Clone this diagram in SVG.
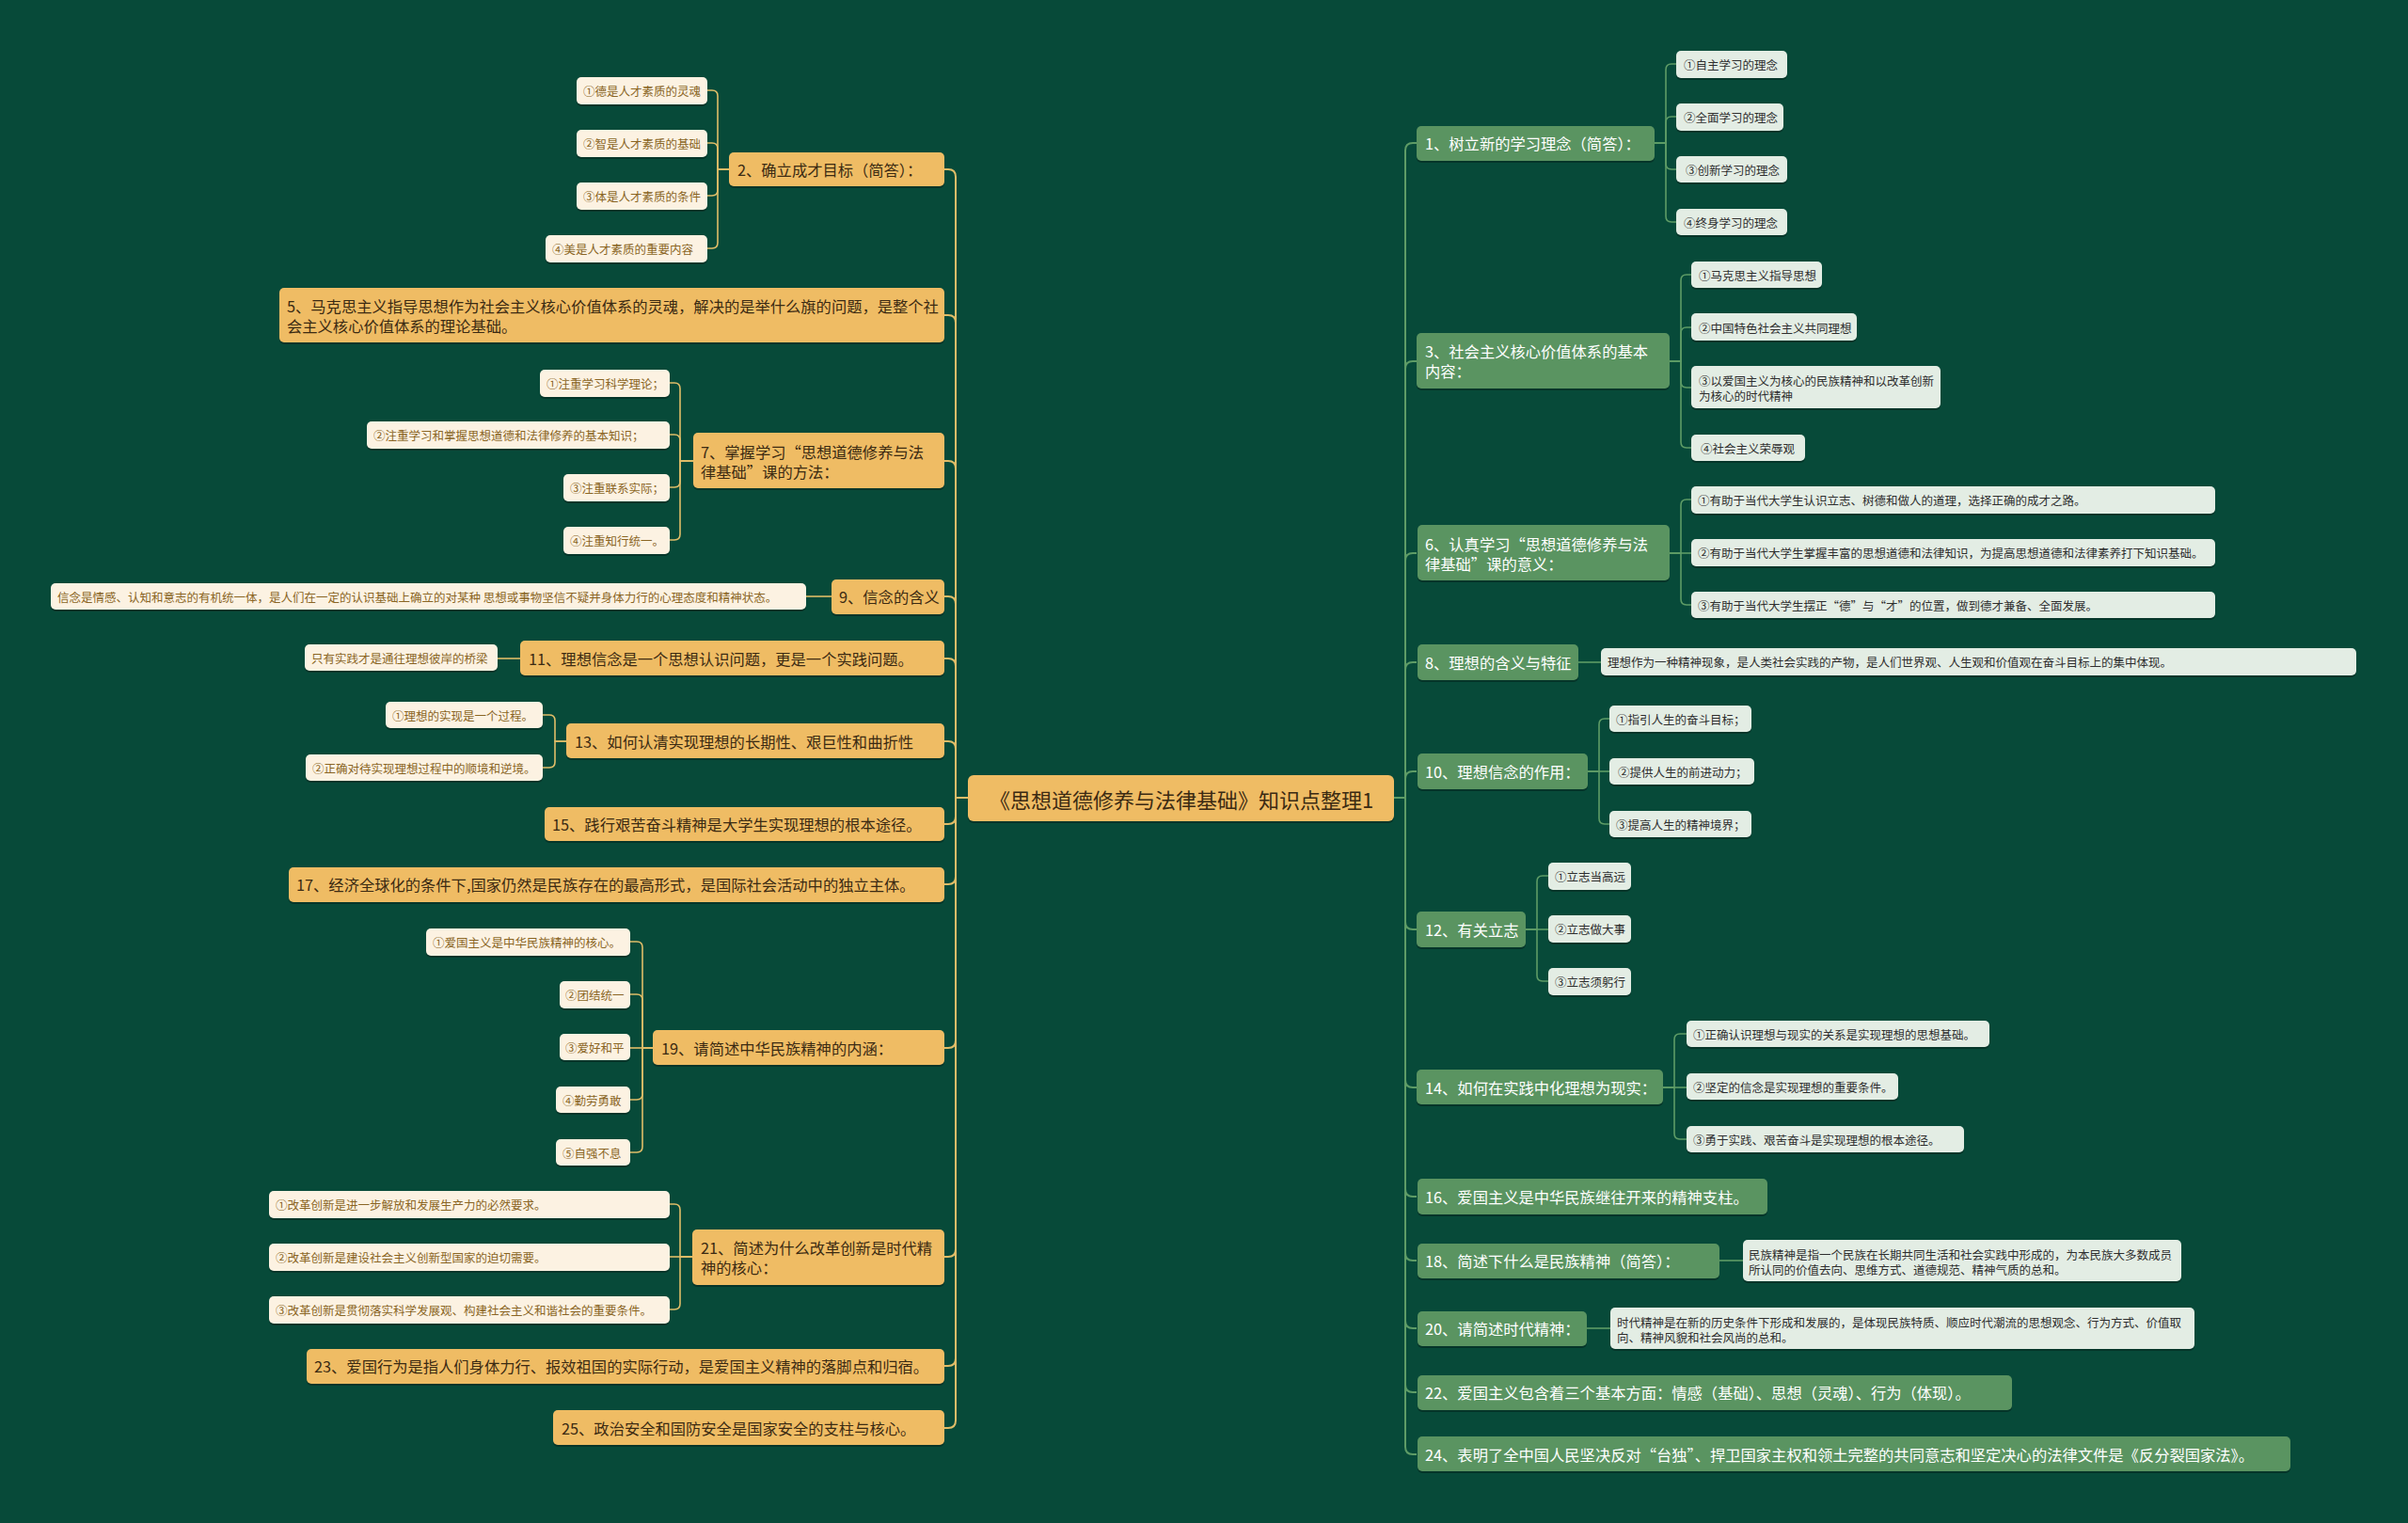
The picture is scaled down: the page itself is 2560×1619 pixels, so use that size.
<svg xmlns="http://www.w3.org/2000/svg" width="2560" height="1619" viewBox="0 0 2560 1619">
<style>
text{font-family:"Noto Sans CJK SC","Liberation Sans",sans-serif;dominant-baseline:central}
.sh{fill:#000;opacity:.28}
.go{fill:#EFBC64}
.gt{fill:#3b2a12;font-size:16.3px}
.co{fill:#FCF2E2}
.ct{fill:#8a6524;font-size:12.5px}
.gr{fill:#5A9461}
.grt{fill:#fff;font-size:16.3px}
.lg{fill:#E3EDE4}
.lgt{fill:#2e2e2e;font-size:12.5px}
.lc{fill:none;stroke:#E0BD68;stroke-width:2}
.lc2{fill:none;stroke:#E0BD68;stroke-width:1.6}
.rc{fill:none;stroke:#5E9C66;stroke-width:2}
.rc2{fill:none;stroke:#5E9C66;stroke-width:1.6}
</style>
<rect x="0" y="0" width="2560" height="1619" fill="#074a39"/>
<g id="connectors">
<path class="lc" d="M1029 848H1016V188Q1016 180 1008 180H1004"/>
<path class="lc" d="M1029 848H1016V343Q1016 335 1008 335H1004"/>
<path class="lc" d="M1029 848H1016V498Q1016 490 1008 490H1004"/>
<path class="lc" d="M1029 848H1016V642Q1016 634 1008 634H1004"/>
<path class="lc" d="M1029 848H1016V708Q1016 700 1008 700H1004"/>
<path class="lc" d="M1029 848H1016V796Q1016 788 1008 788H1004"/>
<path class="lc" d="M1029 848H1016V868Q1016 876 1008 876H1004"/>
<path class="lc" d="M1029 848H1016V932Q1016 940 1008 940H1004"/>
<path class="lc" d="M1029 848H1016V1106Q1016 1114 1008 1114H1004"/>
<path class="lc" d="M1029 848H1016V1328Q1016 1336 1008 1336H1004"/>
<path class="lc" d="M1029 848H1016V1444Q1016 1452 1008 1452H1004"/>
<path class="lc" d="M1029 848H1016V1510Q1016 1518 1008 1518H1004"/>
<path class="rc" d="M1482 848H1494V160Q1494 152 1502 152H1506"/>
<path class="rc" d="M1482 848H1494V392Q1494 384 1502 384H1506"/>
<path class="rc" d="M1482 848H1494V596Q1494 588 1502 588H1506"/>
<path class="rc" d="M1482 848H1494V712Q1494 704 1502 704H1506"/>
<path class="rc" d="M1482 848H1494V828Q1494 820 1502 820H1506"/>
<path class="rc" d="M1482 848H1494V980Q1494 988 1502 988H1506"/>
<path class="rc" d="M1482 848H1494V1148Q1494 1156 1502 1156H1506"/>
<path class="rc" d="M1482 848H1494V1264Q1494 1272 1502 1272H1506"/>
<path class="rc" d="M1482 848H1494V1332Q1494 1340 1502 1340H1506"/>
<path class="rc" d="M1482 848H1494V1404Q1494 1412 1502 1412H1506"/>
<path class="rc" d="M1482 848H1494V1472Q1494 1480 1502 1480H1506"/>
<path class="rc" d="M1482 848H1494V1538Q1494 1546 1502 1546H1506"/>
<path class="lc2" d="M775 180H763V102Q763 96 757 96H752"/>
<path class="lc2" d="M775 180H763V158Q763 152 757 152H752"/>
<path class="lc2" d="M775 180H763V202Q763 208 757 208H752"/>
<path class="lc2" d="M775 180H763V258Q763 264 757 264H752"/>
<path class="lc2" d="M737 490H723V413Q723 407 717 407H712"/>
<path class="lc2" d="M737 490H723V468Q723 462 717 462H712"/>
<path class="lc2" d="M737 490H723V512Q723 518 717 518H712"/>
<path class="lc2" d="M737 490H723V568Q723 574 717 574H712"/>
<path class="lc2" d="M884 634H857"/>
<path class="lc2" d="M553 700H529"/>
<path class="lc2" d="M602 788H590V766Q590 760 584 760H577"/>
<path class="lc2" d="M602 788H590V810Q590 816 584 816H577"/>
<path class="lc2" d="M694 1114H683V1007Q683 1001 677 1001H670"/>
<path class="lc2" d="M694 1114H683V1063Q683 1057 677 1057H670"/>
<path class="lc2" d="M694 1114H670"/>
<path class="lc2" d="M694 1114H683V1163Q683 1169 677 1169H670"/>
<path class="lc2" d="M694 1114H683V1219Q683 1225 677 1225H670"/>
<path class="lc2" d="M736 1336H723V1286Q723 1280 717 1280H712"/>
<path class="lc2" d="M736 1336H712"/>
<path class="lc2" d="M736 1336H723V1386Q723 1392 717 1392H712"/>
<path class="rc2" d="M1759 152H1771V74Q1771 68 1777 68H1782"/>
<path class="rc2" d="M1759 152H1771V130Q1771 124 1777 124H1782"/>
<path class="rc2" d="M1759 152H1771V174Q1771 180 1777 180H1782"/>
<path class="rc2" d="M1759 152H1771V230Q1771 236 1777 236H1782"/>
<path class="rc2" d="M1775 384H1787V298Q1787 292 1793 292H1798"/>
<path class="rc2" d="M1775 384H1787V354Q1787 348 1793 348H1798"/>
<path class="rc2" d="M1775 384H1787V406Q1787 412 1793 412H1798"/>
<path class="rc2" d="M1775 384H1787V470Q1787 476 1793 476H1798"/>
<path class="rc2" d="M1775 588H1787V537Q1787 531 1793 531H1798"/>
<path class="rc2" d="M1775 588H1798"/>
<path class="rc2" d="M1775 588H1787V637Q1787 643 1793 643H1798"/>
<path class="rc2" d="M1678 704H1702"/>
<path class="rc2" d="M1688 820H1700V770Q1700 764 1706 764H1711"/>
<path class="rc2" d="M1688 820H1711"/>
<path class="rc2" d="M1688 820H1700V870Q1700 876 1706 876H1711"/>
<path class="rc2" d="M1622 988H1634V937Q1634 931 1640 931H1646"/>
<path class="rc2" d="M1622 988H1646"/>
<path class="rc2" d="M1622 988H1634V1037Q1634 1043 1640 1043H1646"/>
<path class="rc2" d="M1768 1156H1780V1105Q1780 1099 1786 1099H1793"/>
<path class="rc2" d="M1768 1156H1793"/>
<path class="rc2" d="M1768 1156H1780V1205Q1780 1211 1786 1211H1793"/>
<path class="rc2" d="M1828 1340H1853"/>
<path class="rc2" d="M1687 1412H1712"/>
</g>
<g id="root"><rect class="sh" x="1029" y="826" width="453" height="49" rx="6"/><rect class="go" x="1029" y="824" width="453" height="49" rx="6"/><text x="1256" y="849" text-anchor="middle" style="fill:#3b2a12;font-size:22px">《思想道德修养与法律基础》知识点整理1</text></g>
<g id="n2"><rect class="sh" x="775" y="164" width="229" height="36" rx="5"/><rect class="go" x="775" y="162" width="229" height="36" rx="5"/><text class="gt" x="784" y="180">2、确立成才目标（简答）：</text></g>
<g id="n2c1"><rect class="sh" x="613" y="84" width="139" height="29" rx="5"/><rect class="co" x="613" y="82" width="139" height="29" rx="5"/><text class="ct" x="620" y="96">①德是人才素质的灵魂</text></g>
<g id="n2c2"><rect class="sh" x="613" y="140" width="139" height="29" rx="5"/><rect class="co" x="613" y="138" width="139" height="29" rx="5"/><text class="ct" x="620" y="152">②智是人才素质的基础</text></g>
<g id="n2c3"><rect class="sh" x="613" y="196" width="139" height="29" rx="5"/><rect class="co" x="613" y="194" width="139" height="29" rx="5"/><text class="ct" x="620" y="208">③体是人才素质的条件</text></g>
<g id="n2c4"><rect class="sh" x="580" y="252" width="172" height="29" rx="5"/><rect class="co" x="580" y="250" width="172" height="29" rx="5"/><text class="ct" x="587" y="264">④美是人才素质的重要内容</text></g>
<g id="n5"><rect class="sh" x="297" y="308" width="707" height="58" rx="5"/><rect class="go" x="297" y="306" width="707" height="58" rx="5"/><text class="gt" x="305" y="325">5、马克思主义指导思想作为社会主义核心价值体系的灵魂，解决的是举什么旗的问题，是整个社</text><text class="gt" x="305" y="346">会主义核心价值体系的理论基础。</text></g>
<g id="n7"><rect class="sh" x="737" y="462" width="267" height="59" rx="5"/><rect class="go" x="737" y="460" width="267" height="59" rx="5"/><text class="gt" x="745" y="480">7、掌握学习“思想道德修养与法</text><text class="gt" x="745" y="501">律基础”课的方法：</text></g>
<g id="n7c1"><rect class="sh" x="574" y="395" width="138" height="29" rx="5"/><rect class="co" x="574" y="393" width="138" height="29" rx="5"/><text class="ct" x="581" y="407">①注重学习科学理论；</text></g>
<g id="n7c2"><rect class="sh" x="390" y="450" width="322" height="29" rx="5"/><rect class="co" x="390" y="448" width="322" height="29" rx="5"/><text class="ct" x="397" y="462">②注重学习和掌握思想道德和法律修养的基本知识；</text></g>
<g id="n7c3"><rect class="sh" x="599" y="506" width="113" height="29" rx="5"/><rect class="co" x="599" y="504" width="113" height="29" rx="5"/><text class="ct" x="606" y="518">③注重联系实际；</text></g>
<g id="n7c4"><rect class="sh" x="599" y="562" width="113" height="29" rx="5"/><rect class="co" x="599" y="560" width="113" height="29" rx="5"/><text class="ct" x="606" y="574">④注重知行统一。</text></g>
<g id="n9"><rect class="sh" x="884" y="618" width="120" height="37" rx="5"/><rect class="go" x="884" y="616" width="120" height="37" rx="5"/><text class="gt" x="892" y="634">9、信念的含义</text></g>
<g id="n9c1"><rect class="sh" x="54" y="622" width="803" height="28" rx="5"/><rect class="co" x="54" y="620" width="803" height="28" rx="5"/><text class="ct" x="61" y="634">信念是情感、认知和意志的有机统一体，是人们在一定的认识基础上确立的对某种 思想或事物坚信不疑并身体力行的心理态度和精神状态。</text></g>
<g id="n11"><rect class="sh" x="553" y="683" width="451" height="37" rx="5"/><rect class="go" x="553" y="681" width="451" height="37" rx="5"/><text class="gt" x="562" y="700">11、理想信念是一个思想认识问题，更是一个实践问题。</text></g>
<g id="n11c1"><rect class="sh" x="324" y="687" width="205" height="28" rx="5"/><rect class="co" x="324" y="685" width="205" height="28" rx="5"/><text class="ct" x="331" y="699">只有实践才是通往理想彼岸的桥梁</text></g>
<g id="n13"><rect class="sh" x="602" y="771" width="402" height="37" rx="5"/><rect class="go" x="602" y="769" width="402" height="37" rx="5"/><text class="gt" x="611" y="788">13、如何认清实现理想的长期性、艰巨性和曲折性</text></g>
<g id="n13c1"><rect class="sh" x="410" y="748" width="167" height="28" rx="5"/><rect class="co" x="410" y="746" width="167" height="28" rx="5"/><text class="ct" x="417" y="760">①理想的实现是一个过程。</text></g>
<g id="n13c2"><rect class="sh" x="325" y="804" width="252" height="28" rx="5"/><rect class="co" x="325" y="802" width="252" height="28" rx="5"/><text class="ct" x="332" y="816">②正确对待实现理想过程中的顺境和逆境。</text></g>
<g id="n15"><rect class="sh" x="579" y="860" width="425" height="36" rx="5"/><rect class="go" x="579" y="858" width="425" height="36" rx="5"/><text class="gt" x="587" y="876">15、践行艰苦奋斗精神是大学生实现理想的根本途径。</text></g>
<g id="n17"><rect class="sh" x="307" y="924" width="697" height="37" rx="5"/><rect class="go" x="307" y="922" width="697" height="37" rx="5"/><text class="gt" x="315" y="940">17、经济全球化的条件下,国家仍然是民族存在的最高形式，是国际社会活动中的独立主体。</text></g>
<g id="n19"><rect class="sh" x="694" y="1097" width="310" height="37" rx="5"/><rect class="go" x="694" y="1095" width="310" height="37" rx="5"/><text class="gt" x="703" y="1114">19、请简述中华民族精神的内涵：</text></g>
<g id="n19c1"><rect class="sh" x="453" y="989" width="217" height="29" rx="5"/><rect class="co" x="453" y="987" width="217" height="29" rx="5"/><text class="ct" x="460" y="1001">①爱国主义是中华民族精神的核心。</text></g>
<g id="n19c2"><rect class="sh" x="595" y="1045" width="75" height="29" rx="5"/><rect class="co" x="595" y="1043" width="75" height="29" rx="5"/><text class="ct" x="601" y="1057">②团结统一</text></g>
<g id="n19c3"><rect class="sh" x="595" y="1101" width="75" height="28" rx="5"/><rect class="co" x="595" y="1099" width="75" height="28" rx="5"/><text class="ct" x="601" y="1113">③爱好和平</text></g>
<g id="n19c4"><rect class="sh" x="591" y="1157" width="79" height="28" rx="5"/><rect class="co" x="591" y="1155" width="79" height="28" rx="5"/><text class="ct" x="598" y="1169">④勤劳勇敢</text></g>
<g id="n19c5"><rect class="sh" x="591" y="1213" width="79" height="28" rx="5"/><rect class="co" x="591" y="1211" width="79" height="28" rx="5"/><text class="ct" x="598" y="1225">⑤自强不息</text></g>
<g id="n21"><rect class="sh" x="736" y="1309" width="268" height="59" rx="5"/><rect class="go" x="736" y="1307" width="268" height="59" rx="5"/><text class="gt" x="745" y="1326">21、简述为什么改革创新是时代精</text><text class="gt" x="745" y="1347">神的核心：</text></g>
<g id="n21c1"><rect class="sh" x="286" y="1268" width="426" height="29" rx="5"/><rect class="co" x="286" y="1266" width="426" height="29" rx="5"/><text class="ct" x="293" y="1280">①改革创新是进一步解放和发展生产力的必然要求。</text></g>
<g id="n21c2"><rect class="sh" x="286" y="1324" width="426" height="29" rx="5"/><rect class="co" x="286" y="1322" width="426" height="29" rx="5"/><text class="ct" x="293" y="1336">②改革创新是建设社会主义创新型国家的迫切需要。</text></g>
<g id="n21c3"><rect class="sh" x="286" y="1380" width="426" height="29" rx="5"/><rect class="co" x="286" y="1378" width="426" height="29" rx="5"/><text class="ct" x="293" y="1392">③改革创新是贯彻落实科学发展观、构建社会主义和谐社会的重要条件。</text></g>
<g id="n23"><rect class="sh" x="326" y="1436" width="678" height="37" rx="5"/><rect class="go" x="326" y="1434" width="678" height="37" rx="5"/><text class="gt" x="334" y="1452">23、爱国行为是指人们身体力行、报效祖国的实际行动，是爱国主义精神的落脚点和归宿。</text></g>
<g id="n25"><rect class="sh" x="588" y="1501" width="416" height="37" rx="5"/><rect class="go" x="588" y="1499" width="416" height="37" rx="5"/><text class="gt" x="597" y="1518">25、政治安全和国防安全是国家安全的支柱与核心。</text></g>
<g id="n1"><rect class="sh" x="1506" y="136" width="253" height="37" rx="5"/><rect class="gr" x="1506" y="134" width="253" height="37" rx="5"/><text class="grt" x="1515" y="152">1、树立新的学习理念（简答）：</text></g>
<g id="n1c1"><rect class="sh" x="1782" y="56" width="118" height="29" rx="5"/><rect class="lg" x="1782" y="54" width="118" height="29" rx="5"/><text class="lgt" x="1790" y="68">①自主学习的理念</text></g>
<g id="n1c2"><rect class="sh" x="1782" y="112" width="114" height="29" rx="5"/><rect class="lg" x="1782" y="110" width="114" height="29" rx="5"/><text class="lgt" x="1790" y="124">②全面学习的理念</text></g>
<g id="n1c3"><rect class="sh" x="1782" y="168" width="118" height="28" rx="5"/><rect class="lg" x="1782" y="166" width="118" height="28" rx="5"/><text class="lgt" x="1792" y="180">③创新学习的理念</text></g>
<g id="n1c4"><rect class="sh" x="1782" y="224" width="118" height="28" rx="5"/><rect class="lg" x="1782" y="222" width="118" height="28" rx="5"/><text class="lgt" x="1790" y="236">④终身学习的理念</text></g>
<g id="n3"><rect class="sh" x="1506" y="356" width="269" height="59" rx="5"/><rect class="gr" x="1506" y="354" width="269" height="59" rx="5"/><text class="grt" x="1515" y="373">3、社会主义核心价值体系的基本</text><text class="grt" x="1515" y="394">内容：</text></g>
<g id="n3c1"><rect class="sh" x="1798" y="280" width="139" height="28" rx="5"/><rect class="lg" x="1798" y="278" width="139" height="28" rx="5"/><text class="lgt" x="1806" y="292">①马克思主义指导思想</text></g>
<g id="n3c2"><rect class="sh" x="1798" y="335" width="176" height="29" rx="5"/><rect class="lg" x="1798" y="333" width="176" height="29" rx="5"/><text class="lgt" x="1806" y="348">②中国特色社会主义共同理想</text></g>
<g id="n3c3"><rect class="sh" x="1798" y="391" width="265" height="45" rx="5"/><rect class="lg" x="1798" y="389" width="265" height="45" rx="5"/><text class="lgt" x="1806" y="404">③以爱国主义为核心的民族精神和以改革创新</text><text class="lgt" x="1806" y="420">为核心的时代精神</text></g>
<g id="n3c4"><rect class="sh" x="1798" y="464" width="121" height="28" rx="5"/><rect class="lg" x="1798" y="462" width="121" height="28" rx="5"/><text class="lgt" x="1808" y="476">④社会主义荣辱观</text></g>
<g id="n6"><rect class="sh" x="1507" y="560" width="268" height="59" rx="5"/><rect class="gr" x="1507" y="558" width="268" height="59" rx="5"/><text class="grt" x="1515" y="578">6、认真学习“思想道德修养与法</text><text class="grt" x="1515" y="599">律基础”课的意义：</text></g>
<g id="n6c1"><rect class="sh" x="1798" y="519" width="557" height="29" rx="5"/><rect class="lg" x="1798" y="517" width="557" height="29" rx="5"/><text class="lgt" x="1805" y="531">①有助于当代大学生认识立志、树德和做人的道理，选择正确的成才之路。</text></g>
<g id="n6c2"><rect class="sh" x="1798" y="575" width="557" height="29" rx="5"/><rect class="lg" x="1798" y="573" width="557" height="29" rx="5"/><text class="lgt" x="1805" y="587">②有助于当代大学生掌握丰富的思想道德和法律知识，为提高思想道德和法律素养打下知识基础。</text></g>
<g id="n6c3"><rect class="sh" x="1798" y="631" width="557" height="28" rx="5"/><rect class="lg" x="1798" y="629" width="557" height="28" rx="5"/><text class="lgt" x="1805" y="643">③有助于当代大学生摆正“德”与“才”的位置，做到德才兼备、全面发展。</text></g>
<g id="n8"><rect class="sh" x="1507" y="687" width="171" height="38" rx="5"/><rect class="gr" x="1507" y="685" width="171" height="38" rx="5"/><text class="grt" x="1515" y="704">8、理想的含义与特征</text></g>
<g id="n8c1"><rect class="sh" x="1702" y="691" width="803" height="29" rx="5"/><rect class="lg" x="1702" y="689" width="803" height="29" rx="5"/><text class="lgt" x="1709" y="703">理想作为一种精神现象，是人类社会实践的产物，是人们世界观、人生观和价值观在奋斗目标上的集中体现。</text></g>
<g id="n10"><rect class="sh" x="1507" y="803" width="181" height="38" rx="5"/><rect class="gr" x="1507" y="801" width="181" height="38" rx="5"/><text class="grt" x="1515" y="820">10、理想信念的作用：</text></g>
<g id="n10c1"><rect class="sh" x="1711" y="752" width="151" height="28" rx="5"/><rect class="lg" x="1711" y="750" width="151" height="28" rx="5"/><text class="lgt" x="1718" y="764">①指引人生的奋斗目标；</text></g>
<g id="n10c2"><rect class="sh" x="1711" y="808" width="154" height="28" rx="5"/><rect class="lg" x="1711" y="806" width="154" height="28" rx="5"/><text class="lgt" x="1720" y="820">②提供人生的前进动力；</text></g>
<g id="n10c3"><rect class="sh" x="1711" y="864" width="151" height="28" rx="5"/><rect class="lg" x="1711" y="862" width="151" height="28" rx="5"/><text class="lgt" x="1718" y="876">③提高人生的精神境界；</text></g>
<g id="n12"><rect class="sh" x="1506" y="971" width="116" height="38" rx="5"/><rect class="gr" x="1506" y="969" width="116" height="38" rx="5"/><text class="grt" x="1515" y="988">12、有关立志</text></g>
<g id="n12c1"><rect class="sh" x="1646" y="919" width="88" height="29" rx="5"/><rect class="lg" x="1646" y="917" width="88" height="29" rx="5"/><text class="lgt" x="1653" y="931">①立志当高远</text></g>
<g id="n12c2"><rect class="sh" x="1646" y="975" width="88" height="29" rx="5"/><rect class="lg" x="1646" y="973" width="88" height="29" rx="5"/><text class="lgt" x="1653" y="987">②立志做大事</text></g>
<g id="n12c3"><rect class="sh" x="1646" y="1031" width="88" height="29" rx="5"/><rect class="lg" x="1646" y="1029" width="88" height="29" rx="5"/><text class="lgt" x="1653" y="1043">③立志须躬行</text></g>
<g id="n14"><rect class="sh" x="1506" y="1139" width="262" height="37" rx="5"/><rect class="gr" x="1506" y="1137" width="262" height="37" rx="5"/><text class="grt" x="1515" y="1156">14、如何在实践中化理想为现实：</text></g>
<g id="n14c1"><rect class="sh" x="1793" y="1087" width="322" height="28" rx="5"/><rect class="lg" x="1793" y="1085" width="322" height="28" rx="5"/><text class="lgt" x="1800" y="1099">①正确认识理想与现实的关系是实现理想的思想基础。</text></g>
<g id="n14c2"><rect class="sh" x="1793" y="1143" width="225" height="28" rx="5"/><rect class="lg" x="1793" y="1141" width="225" height="28" rx="5"/><text class="lgt" x="1800" y="1155">②坚定的信念是实现理想的重要条件。</text></g>
<g id="n14c3"><rect class="sh" x="1793" y="1199" width="295" height="28" rx="5"/><rect class="lg" x="1793" y="1197" width="295" height="28" rx="5"/><text class="lgt" x="1800" y="1211">③勇于实践、艰苦奋斗是实现理想的根本途径。</text></g>
<g id="n16"><rect class="sh" x="1507" y="1255" width="372" height="38" rx="5"/><rect class="gr" x="1507" y="1253" width="372" height="38" rx="5"/><text class="grt" x="1515" y="1272">16、爱国主义是中华民族继往开来的精神支柱。</text></g>
<g id="n18"><rect class="sh" x="1507" y="1324" width="321" height="37" rx="5"/><rect class="gr" x="1507" y="1322" width="321" height="37" rx="5"/><text class="grt" x="1515" y="1340">18、简述下什么是民族精神（简答）：</text></g>
<g id="n18c1"><rect class="sh" x="1853" y="1320" width="466" height="44" rx="5"/><rect class="lg" x="1853" y="1318" width="466" height="44" rx="5"/><text class="lgt" x="1859" y="1333">民族精神是指一个民族在长期共同生活和社会实践中形成的，为本民族大多数成员</text><text class="lgt" x="1859" y="1349">所认同的价值去向、思维方式、道德规范、精神气质的总和。</text></g>
<g id="n20"><rect class="sh" x="1507" y="1396" width="180" height="37" rx="5"/><rect class="gr" x="1507" y="1394" width="180" height="37" rx="5"/><text class="grt" x="1515" y="1412">20、请简述时代精神：</text></g>
<g id="n20c1"><rect class="sh" x="1712" y="1392" width="621" height="44" rx="5"/><rect class="lg" x="1712" y="1390" width="621" height="44" rx="5"/><text class="lgt" x="1719" y="1405">时代精神是在新的历史条件下形成和发展的，是体现民族特质、顺应时代潮流的思想观念、行为方式、价值取</text><text class="lgt" x="1719" y="1421">向、精神风貌和社会风尚的总和。</text></g>
<g id="n22"><rect class="sh" x="1507" y="1464" width="632" height="37" rx="5"/><rect class="gr" x="1507" y="1462" width="632" height="37" rx="5"/><text class="grt" x="1515" y="1480">22、爱国主义包含着三个基本方面：情感（基础）、思想（灵魂）、行为（体现）。</text></g>
<g id="n24"><rect class="sh" x="1507" y="1529" width="928" height="37" rx="5"/><rect class="gr" x="1507" y="1527" width="928" height="37" rx="5"/><text class="grt" x="1515" y="1546">24、表明了全中国人民坚决反对“台独”、捍卫国家主权和领土完整的共同意志和坚定决心的法律文件是《反分裂国家法》。</text></g>
</svg>
